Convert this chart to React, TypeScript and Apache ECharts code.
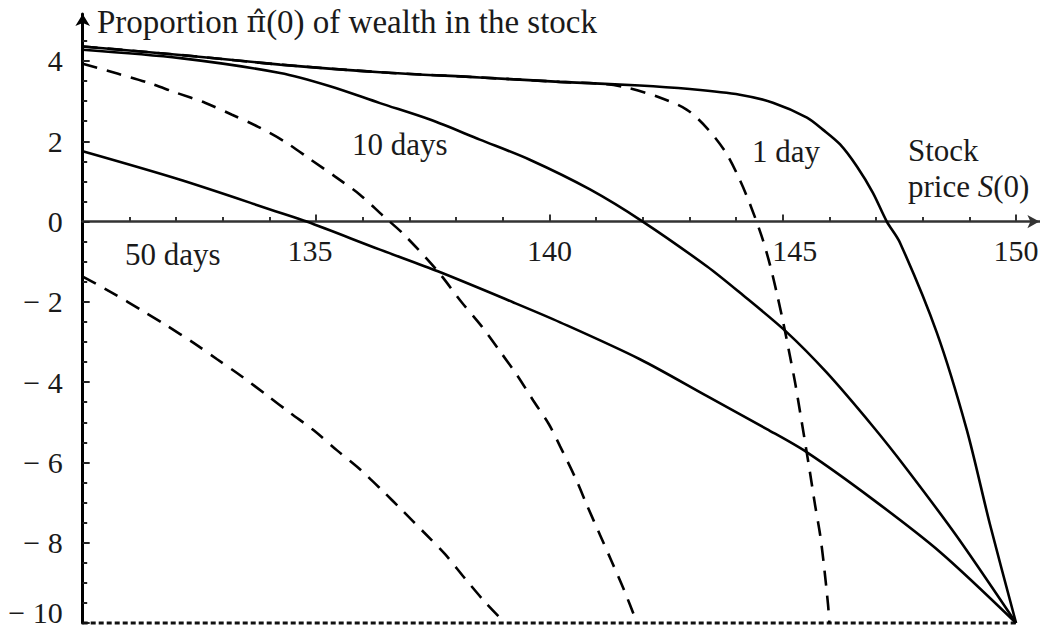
import React, { useEffect, useRef } from "react";
import * as echarts from "echarts";

// Stock price S(0) vs proportion of wealth in the stock
const solid1Day: [number, number][] = [
  [130, 4.36], [132.09, 4.15], [134.23, 3.91], [136.37, 3.72], [138.51, 3.59],
  [140.22, 3.48], [141.94, 3.39], [143.01, 3.3], [144.08, 3.16], [144.79, 2.96],
  [145.52, 2.59], [145.86, 2.29], [146.23, 1.92], [146.59, 1.37], [146.93, 0.72],
  [147.23, 0], [147.51, -0.52], [148.3, -2.76], [148.94, -5.17], [149.44, -7.54],
  [150, -10],
];
const dashed1Day: [number, number][] = [
  [130, 4.36], [132.09, 4.15], [134.23, 3.91], [136.37, 3.72], [138.51, 3.59],
  [140.22, 3.48], [141.23, 3.42], [141.68, 3.33], [142.32, 3.11], [142.94, 2.79],
  [143.39, 2.31], [143.78, 1.72], [144.08, 1.04], [144.32, 0.37], [144.55, -0.37],
  [144.73, -1.09], [144.88, -1.82], [145.01, -2.51], [145.14, -3.26], [145.26, -3.98],
  [145.37, -4.73], [145.58, -6.22], [145.69, -7.04], [145.8, -7.79], [145.88, -8.53],
  [145.97, -9.53], [146.0, -10],
];
const solid10Days: [number, number][] = [
  [130, 4.28], [132.09, 4.07], [134.23, 3.7], [135.3, 3.37], [136.37, 2.95],
  [137.44, 2.54], [138.51, 2.04], [139.58, 1.54], [140.87, 0.8], [142.0, 0],
  [143.38, -1.12], [144.08, -1.77], [145.09, -2.76], [145.94, -3.76], [146.93, -5.1],
  [147.66, -6.17], [148.73, -7.84], [150, -10],
];
const dashed10Days: [number, number][] = [
  [130, 3.93], [130.76, 3.68], [131.4, 3.46], [132.0, 3.21], [132.62, 2.96],
  [133.2, 2.66], [133.76, 2.36], [134.33, 1.99], [134.89, 1.54], [135.41, 1.12],
  [135.94, 0.67], [136.43, 0.15], [136.88, -0.32], [137.61, -1.24], [138.12, -2.01],
  [138.55, -2.61], [138.94, -3.23], [139.31, -3.83], [139.65, -4.45], [139.99, -5.05],
  [140.23, -5.6], [140.57, -6.42], [140.81, -7.08], [141.09, -7.82], [141.34, -8.48],
  [141.6, -9.18], [141.88, -10],
];
const solid50Days: [number, number][] = [
  [130, 1.75], [132.09, 1.04], [134.23, 0.22], [134.8, 0], [136.37, -0.7],
  [137.61, -1.24], [139.22, -2.01], [140.23, -2.51], [141.94, -3.43], [143.38, -4.35],
  [144.66, -5.17], [145.52, -5.75], [146.93, -6.92], [148.37, -8.23], [150, -10],
];
const dashed50Days: [number, number][] = [
  [130, -1.37], [130.67, -1.8], [131.25, -2.2], [131.81, -2.6], [132.36, -3.01],
  [132.88, -3.43], [133.41, -3.86], [133.95, -4.33], [134.46, -4.78], [134.95, -5.2],
  [135.45, -5.7], [135.94, -6.17], [136.41, -6.69], [136.86, -7.21], [137.31, -7.74],
  [137.76, -8.28], [138.17, -8.86], [138.6, -9.45], [139.05, -10],
];
const floorLine: [number, number][] = [[130, -10], [150, -10]];

const xMajorTicks = [135, 140, 145, 150];
const xMinorTicks = [131, 132, 133, 134, 136, 137, 138, 139, 141, 142, 143, 144, 146, 147, 148, 149];
const yMajorTicks = [-10, -8, -6, -4, -2, 0, 2, 4];
const yMinorTicks = [-9.5, -9, -8.5, -7.5, -7, -6.5, -5.5, -5, -4.5, -3.5, -3, -2.5, -1.5, -1, -0.5, 0.5, 1, 1.5, 2.5, 3, 3.5, 4.5];

const FONT = "'Liberation Serif', 'DejaVu Serif', serif";
const TXT = "#1a1a1a";

const Y_MIN = -10;
const Y_MAX = 5.17;
const GRID_TOP = 14;
const GRID_BOTTOM = 8;
const H = 631;

export default function App() {
  const ref = useRef<HTMLDivElement>(null);
  useEffect(() => {
    const chart = echarts.init(ref.current!, null, { renderer: "svg" });
    const gridH = H - GRID_TOP - GRID_BOTTOM;
    // distance from grid bottom up to the y = 0 line
    const zeroOffset = -((0 - Y_MIN) / (Y_MAX - Y_MIN)) * gridH;
    const lbl = (size: number) => ({ fontFamily: FONT, fontSize: size, color: TXT });
    const solid = (name: string, data: [number, number][]) => ({
      name, type: "line", data, showSymbol: false, symbol: "none", clip: false,
      smooth: 0.3,
      lineStyle: { color: "#000", width: 2.6 },
    });
    const dashed = (name: string, data: [number, number][]) => ({
      name, type: "line", data, showSymbol: false, symbol: "none", clip: false,
      smooth: 0.3,
      lineStyle: { color: "#000", width: 2.6, type: [15, 10], cap: "butt" },
    });
    const text = (x: number, y: number, t: string, size: number, rich?: any) => ({
      type: "text", x, y, silent: true,
      style: {
        text: t, fill: TXT, font: `${size}px ${FONT}`, fontFamily: FONT, fontSize: size,
        align: "left", textAlign: "left", verticalAlign: "middle", textVerticalAlign: "middle",
        rich,
      },
    });
    const italic = (size: number) => ({
      i: { fontFamily: FONT, fontSize: size, fontStyle: "italic", color: TXT },
      p: { fontFamily: "'DejaVu Serif', serif", fontSize: size - 3, color: TXT },
    });
    chart.setOption({
      animation: false,
      backgroundColor: "#fff",
      grid: {
        left: 82.7, right: 0.6, top: GRID_TOP, bottom: GRID_BOTTOM,
        containLabel: false, outerBoundsMode: "none",
      },
      xAxis: [
        {
          type: "value", min: 130, max: 150.5, position: "bottom", offset: zeroOffset,
          axisLine: {
            show: true, onZero: false, symbol: ["none", "arrow"], symbolSize: [10, 12],
            lineStyle: { color: "#333", width: 2.6 },
          },
          axisTick: { show: true, inside: true, length: 7, customValues: xMajorTicks, lineStyle: { color: "#333", width: 2 } },
          axisLabel: {
            show: true, customValues: xMajorTicks, margin: 14, ...lbl(30),
            formatter: (v: number) => `{t${v}|${v}}`,
            rich: {
              t135: { ...lbl(30), padding: [0, 12, 0, 0] },
              t140: { ...lbl(30) },
              t145: { ...lbl(30), padding: [0, 0, 0, 24] },
              t150: { ...lbl(30) },
            },
          },
          splitLine: { show: false },
        },
        {
          type: "value", min: 130, max: 150.5, position: "bottom", offset: zeroOffset,
          axisLine: { show: false, onZero: false },
          axisTick: { show: true, inside: true, length: 4.5, customValues: xMinorTicks, lineStyle: { color: "#333", width: 2 } },
          axisLabel: { show: false },
          splitLine: { show: false },
        },
      ],
      yAxis: [
        {
          type: "value", min: Y_MIN, max: Y_MAX, position: "left",
          axisLine: {
            show: true, onZero: false, symbol: ["none", "arrow"], symbolSize: [11, 12],
            lineStyle: { color: "#000", width: 3 },
          },
          axisTick: { show: true, inside: true, length: 7, customValues: yMajorTicks, lineStyle: { color: "#222", width: 2 } },
          axisLabel: {
            show: true, customValues: yMajorTicks, margin: 20, ...lbl(30),
            formatter: (v: number) =>
              v === Y_MIN ? `{b|\u2212 ${-v}}` : v < 0 ? `\u2212 ${-v}` : `${v}`,
            rich: { b: { ...lbl(30), padding: [0, 0, 22, 0] } },
          },
          splitLine: { show: false },
        },
        {
          type: "value", min: Y_MIN, max: Y_MAX, position: "left",
          axisLine: { show: false, onZero: false },
          axisTick: { show: true, inside: true, length: 4.5, customValues: yMinorTicks, lineStyle: { color: "#222", width: 2 } },
          axisLabel: { show: false },
          splitLine: { show: false },
        },
      ],
      series: [
        { name: "floor", type: "line", data: floorLine, showSymbol: false, symbol: "none", clip: false,
          lineStyle: { color: "#111", width: 3, type: [5, 3], cap: "butt" } },
        dashed("1 day (dashed)", dashed1Day),
        dashed("10 days (dashed)", dashed10Days),
        dashed("50 days (dashed)", dashed50Days),
        solid("1 day", solid1Day),
        solid("10 days", solid10Days),
        solid("50 days", solid50Days),
      ],
      graphic: [
        text(97, 21.5, "Proportion {p|\u03C0\u0302}(0) of wealth in the stock", 33, italic(33)),
        text(352, 144.5, "10 days", 31),
        text(752, 151.5, "1 day", 31),
        text(908, 150.5, "Stock", 31),
        text(908, 186.5, "price {i|S}(0)", 31, italic(31)),
        text(125, 254.5, "50 days", 31),
      ],
    });
    return () => chart.dispose();
  }, []);
  return (
    <div
      ref={ref}
      style={{ position: "fixed", left: 0, top: 0, width: 1040, height: 631, background: "#fff" }}
    />
  );
}
